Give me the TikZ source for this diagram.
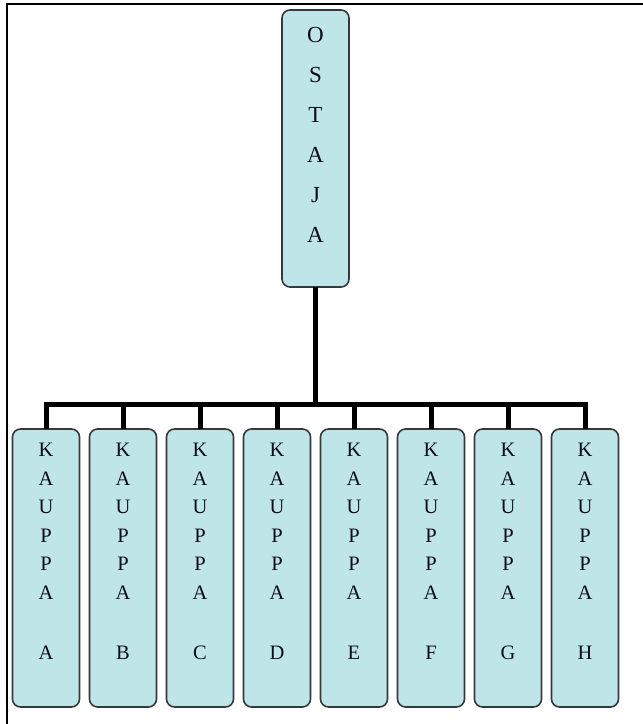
\documentclass[tikz,border=0pt]{standalone}
\usepackage{fontspec}
\setmainfont{Liberation Serif}
\definecolor{boxfill}{RGB}{190,230,232}
\definecolor{boxedge}{RGB}{55,55,60}
\definecolor{inkcol}{RGB}{15,10,30}

% vertical letter stacks
\newcommand\ostajacol{\vbox to 277pt{\hsize=67pt\parindent=0pt\centering
  \fontsize{23}{40}\selectfont\color{inkcol}
  \vskip17.5pt O\par S\par T\par A\par J\par A\par\vfil}}
\newcommand\kauppacol[1]{\vbox to 278pt{\hsize=67pt\parindent=0pt\centering
  \fontsize{20.5}{28.5}\selectfont\color{inkcol}
  \vskip14.4pt K\par A\par U\par P\par P\par A\par\vskip32pt #1\par\vfil}}

\tikzset{
  orgbox/.style={draw=boxedge, line width=1.6pt, fill=boxfill,
    rounded corners=8pt, inner sep=0pt, outer sep=0pt},
  wire/.style={line width=5pt, line join=miter, black},
  frame/.style={line width=2.2pt, black}
}

\begin{document}
\begin{tikzpicture}[x=1pt, y=-1pt]
  \useasboundingbox (0,0) rectangle (643,724);

  % outer frame (top and left edges)
  \draw[frame] (7,724) -- (7,4.3) -- (643,4.3);

  % head box
  \node[orgbox, anchor=north] (top) at (315.5,10) {\ostajacol};

  % shop boxes
  \foreach \n/\l [count=\i from 0] in {kA/A,kB/B,kC/C,kD/D,kE/E,kF/F,kG/G,kH/H}
    \node[orgbox, anchor=north] (\n) at ({46+77*\i},429) {\kauppacol{\l}};

  % bus line and connectors
  \coordinate (bus) at (0,404);
  \foreach \n in {kA,kB,kC,kD,kE,kF,kG,kH}
    \draw[wire] (top.south) -- (top.south |- bus) -| (\n.north);
\end{tikzpicture}
\end{document}
